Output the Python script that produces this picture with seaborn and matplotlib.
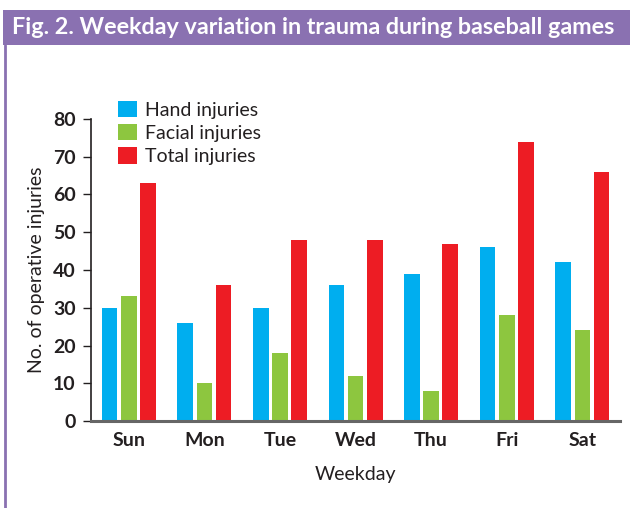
import pandas as pd
import matplotlib.pyplot as plt
import seaborn as sns
from matplotlib.patches import Rectangle
from matplotlib.lines import Line2D

days = ['Sun', 'Mon', 'Tue', 'Wed', 'Thu', 'Fri', 'Sat']
hand = [30, 26, 30, 36, 39, 46, 42]
facial = [33, 10, 18, 12, 8, 28, 24]
total = [63, 36, 48, 48, 47, 74, 66]
series = ['Hand injuries', 'Facial injuries', 'Total injuries']
colors = ['#00aeef', '#8dc63f', '#ed1c24']

# long form table for seaborn
rows = []
for name, vals in zip(series, [hand, facial, total]):
    for d, v in zip(days, vals):
        rows.append({'Weekday': d, 'Type': name, 'Count': v})
df = pd.DataFrame(rows)

sns.set_style('white')
plt.rcParams['font.family'] = ['Lato', 'DejaVu Sans']

fig = plt.figure(figsize=(6.3, 5.08), dpi=100)
ax = fig.add_axes([0.1444, 0.171, 0.84, 0.595])

sns.barplot(data=df, x='Weekday', y='Count', hue='Type', palette=colors,
            width=0.76, gap=0.18, ax=ax, saturation=1, errorbar=None,
            edgecolor='none', linewidth=0)

ax.set_ylim(0, 80)
ax.set_xlim(-0.5, 6.5)
ax.set_yticks(range(0, 81, 10))
ax.set_xlabel('Weekday', fontsize=14, color='#231f20', labelpad=12)
ax.set_ylabel('No. of operative injuries', fontsize=14, color='#231f20', labelpad=6)
ax.tick_params(axis='y', length=6, width=1, color='#231f20', labelsize=14,
               labelcolor='#231f20', left=True, direction='out', pad=5)
ax.tick_params(axis='x', length=0, labelsize=14, labelcolor='#231f20', pad=8)
for t in ax.get_xticklabels() + ax.get_yticklabels():
    t.set_fontweight('bold')

sns.despine(ax=ax)
ax.spines['left'].set_color('#231f20')
ax.spines['left'].set_linewidth(1.2)
ax.spines['bottom'].set_color('#666666')
ax.spines['bottom'].set_linewidth(2.2)

ax.legend(loc='upper left', bbox_to_anchor=(0.188, 0.802), bbox_transform=fig.transFigure,
          frameon=False, fontsize=14, handlelength=0.95, handleheight=0.95,
          handletextpad=0.4, labelspacing=0.26, borderaxespad=0, borderpad=0)
for t in ax.get_legend().get_texts():
    t.set_color('#231f20')

# title banner
fig.patches.append(Rectangle((0.005, 0.911), 0.995, 0.069, transform=fig.transFigure,
                             facecolor='#8a71b1', edgecolor='none'))
fig.lines.append(Line2D([0.0075, 0.0075], [0.0, 0.912], transform=fig.transFigure,
                        color='#8a71b1', linewidth=2))
fig.text(0.019, 0.945, 'Fig. 2. Weekday variation in trauma during baseball games',
         color='white', fontsize=16.8, fontweight='bold', va='center', ha='left')

fig.savefig('out.png', dpi=100)
